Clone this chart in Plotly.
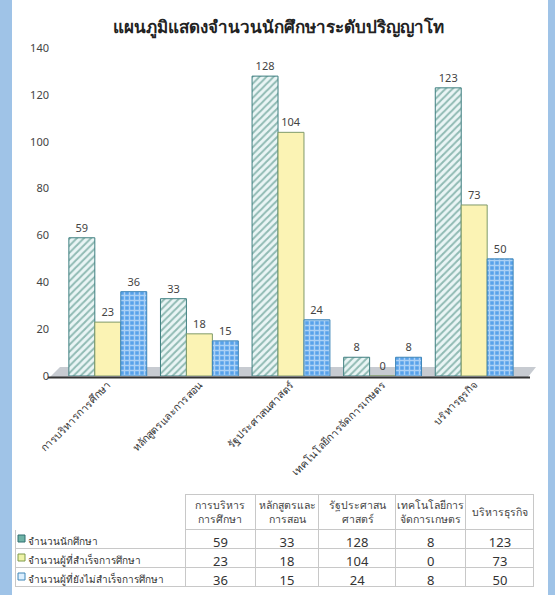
import plotly.graph_objects as go

W, H = 555, 595

title = "แผนภูมิแสดงจำนวนนักศึกษาระดับปริญญาโท"
categories = ["การบริหารการศึกษา", "หลักสูตรและการสอน", "รัฐประศาสนศาสตร์",
              "เทคโนโลยีการจัดการเกษตร", "บริหารธุรกิจ"]
table_headers = ["การบริหาร<br>การศึกษา", "หลักสูตรและ<br>การสอน", "รัฐประศาสน<br>ศาสตร์",
                 "เทคโนโลยีการ<br>จัดการเกษตร", "บริหารธุรกิจ"]
series_names = ["จำนวนนักศึกษา", "จำนวนผู้ที่สำเร็จการศึกษา", "จำนวนผู้ที่ยังไม่สำเร็จการศึกษา"]
students = [59, 33, 128, 8, 123]
graduated = [23, 18, 104, 0, 73]
not_graduated = [36, 15, 24, 8, 50]

FONT = "Noto Sans, Tahoma, sans-serif"


def px(x):
    return x / W


def py(y):
    return 1 - y / H


fig = go.Figure()

styles = [
    dict(marker=dict(color="#eaf5f5", line=dict(color="#3f7f80", width=1),
                     pattern=dict(shape="/", fgcolor="#367f72", bgcolor="#eaf5f5",
                                  size=5, solidity=0.4))),
    dict(marker=dict(color="#fbf3b4", line=dict(color="#7f9a6a", width=1))),
    dict(marker=dict(color="#5aa4ec", line=dict(color="#3f86b8", width=1),
                     pattern=dict(shape="+", fgcolor="#ffffff", bgcolor="#58a2ea",
                                  size=5, solidity=0.5))),
]

series_values = [students, graduated, not_graduated]
for name, vals, st in zip(series_names, series_values, styles):
    fig.add_trace(go.Bar(
        x=categories, y=vals, name=name,
        text=[str(v) for v in vals], textposition="outside",
        textfont=dict(size=11, color="#444444", family=FONT),
        cliponaxis=False, showlegend=False, **st))

cols = [["\u00a0\u00a0" + s for s in series_names]]
for i in range(len(categories)):
    cols.append([students[i], graduated[i], not_graduated[i]])

TX0, TX1 = 15, 534
colw = [170, 70, 63, 77, 70, 68]
fig.add_trace(go.Table(
    domain=dict(x=[px(TX0), px(TX1)], y=[0, py(494)]),
    columnwidth=colw,
    header=dict(values=[""] * 6, height=35,
                fill=dict(color="white"),
                line=dict(color=["white"] + ["#c8c8c8"] * 5, width=1)),
    cells=dict(values=cols, height=19,
               align=["left"] + ["center"] * 5,
               font=dict(size=[10] + [13] * 5, color="#333333", family=FONT),
               fill=dict(color="white"),
               line=dict(color="#c8c8c8", width=1)),
))

# header texts placed over the blank header cells
annotations = []
scale = (TX1 - TX0) / sum(colw)
edges = [TX0]
for w in colw:
    edges.append(edges[-1] + w * scale)
for j, htxt in enumerate(table_headers):
    xc = (edges[j + 1] + edges[j + 2]) / 2
    annotations.append(dict(xref="paper", yref="paper", x=px(xc), y=py(511.5),
                            text=htxt, showarrow=False, xanchor="center", yanchor="middle",
                            font=dict(size=10.5, color="#444444", family=FONT)))

shapes = []
# blue border strips
shapes.append(dict(type="rect", xref="paper", yref="paper", x0=0, x1=px(12), y0=0, y1=1,
                   fillcolor="#9fc3e7", line=dict(width=0), layer="above"))
shapes.append(dict(type="rect", xref="paper", yref="paper", x0=px(548), x1=1, y0=0, y1=1,
                   fillcolor="#9fc3e7", line=dict(width=0), layer="above"))
# 3D floor
shapes.append(dict(type="path", xref="paper", yref="paper",
                   path=f"M {px(50)} {py(377)} L {px(528)} {py(377)} L {px(536)} {py(367)} L {px(60)} {py(367)} Z",
                   fillcolor="#c7cbd1", line=dict(width=0), layer="below"))
shapes.append(dict(type="line", xref="paper", yref="paper", x0=px(48), x1=px(530),
                   y0=py(377.5), y1=py(377.5), line=dict(color="#333333", width=2), layer="above"))
# swatches in table
sw_colors = [("#6fb3a6", "#2f6f70"), ("#eef3a8", "#7f9a4a"), ("#dcefff", "#3f86b8")]
for k, (fc, lc) in enumerate(sw_colors):
    yc = 538.5 + 19 * k
    shapes.append(dict(type="rect", xref="paper", yref="paper",
                       x0=px(18), x1=px(25), y0=py(yc + 3.5), y1=py(yc - 3.5),
                       fillcolor=fc, line=dict(color=lc, width=1), layer="above"))

fig.update_layout(
    width=W, height=H, autosize=False,
    margin=dict(l=0, r=0, t=0, b=0),
    paper_bgcolor="white", plot_bgcolor="rgba(0,0,0,0)",
    barmode="group", bargap=0.15, bargroupgap=0.0,
    font=dict(family=FONT, color="#333333"),
    title=dict(text=f"<b>{title}</b>", x=px(278), y=py(27), xanchor="center", yanchor="middle",
               font=dict(size=17, color="#222222", family=FONT)),
    xaxis=dict(domain=[px(62), px(520)], tickangle=-45, automargin=False,
               tickfont=dict(size=10.5, color="#333333", family=FONT),
               showline=False, showgrid=False, ticks=""),
    yaxis=dict(domain=[py(376), py(48)], range=[0, 140], dtick=20, automargin=False,
               showgrid=False, zeroline=False, showline=False, ticks="",
               ticklabelstandoff=12,
               tickfont=dict(size=11, color="#444444", family=FONT)),
    shapes=shapes,
    annotations=annotations,
)

fig.write_html("out.html", config={"displayModeBar": False},
               post_script="document.body.style.margin='0px';")
